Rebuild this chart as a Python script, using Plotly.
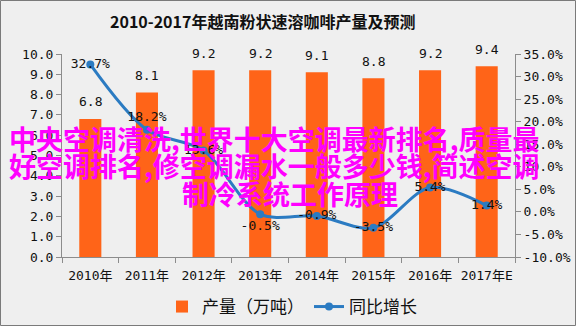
import plotly.graph_objects as go

# Vietnam powdered instant coffee output and year-on-year growth
years = ["2010年", "2011年", "2012年", "2013年", "2014年", "2015年", "2016年", "2017年E"]
output_wt = [6.8, 8.1, 9.2, 9.2, 9.1, 8.8, 9.2, 9.4]          # 万吨
growth_pct = [32.7, 18.2, 13.6, -0.5, -0.9, -3.5, 5.4, 1.4]   # %
growth_pos = ["middle center", "top center", "middle center", "bottom center",
              "middle center", "middle center", "middle center", "middle center"]

left_ticks = [0, 1, 2, 3, 4, 5, 6, 7, 8, 9, 10]
right_ticks = [-10, -5, 0, 5, 10, 15, 20, 25, 30, 35]

overlay_lines = ["中央空调清洗,世界十大空调最新排名,质量最",
                 "好空调排名,修空调漏水一般多少钱,简述空调",
                 "制冷系统工作原理"]

W, H = 576, 326
ML, MR, MT, MB = 62, 61, 54, 69
PW, PH = W - ML - MR, H - MT - MB

NUM_FONT = "DejaVu Sans Mono, Noto Sans CJK SC, sans-serif"
CJK_FONT = "Noto Sans CJK SC, sans-serif"
BG = "#efefef"
ORANGE = "#ff6418"
BLUE = "#2b7bc2"
AXIS = "#8c8c8c"

fig = go.Figure()

fig.add_trace(go.Bar(
    x=years, y=output_wt, name="产量（万吨）",
    marker=dict(color=ORANGE, line=dict(width=0)),
    width=0.39, yaxis="y",
))

fig.add_trace(go.Scatter(
    x=years, y=growth_pct, name="同比增长", yaxis="y2",
    mode="lines+markers+text",
    line=dict(color=BLUE, width=3, shape="spline", smoothing=0.9),
    marker=dict(color=BLUE, size=8),
    text=[f"{v:.1f}%" for v in growth_pct],
    textposition=growth_pos,
    textfont=dict(family=NUM_FONT, size=13, color="#111111"),
    cliponaxis=False,
))

annotations = []
# value labels above the bars
for x, v in zip(years, output_wt):
    annotations.append(dict(
        x=x, y=v, xref="x", yref="y", text=f"{v:.1f}", showarrow=False,
        yshift=17, font=dict(family=NUM_FONT, size=13, color="#111111"),
    ))

# title
annotations.append(dict(
    x=(262 - ML) / PW, y=(H - 21 - MB) / PH, xref="paper", yref="paper",
    text="<b>2010-2017年越南粉状速溶咖啡产量及预测</b>", showarrow=False,
    xanchor="center", yanchor="middle",
    font=dict(family=CJK_FONT, size=16, color="#111111"),
))

# magenta headline text over the chart
line_specs = [(7, 138, "left"), (7, 165, "left"), (290, 193, "center")]
for txt, (px, py, anchor) in zip(overlay_lines, line_specs):
    annotations.append(dict(
        x=(px - ML) / PW, y=(H - py - MB) / PH, xref="paper", yref="paper",
        text=f"<b>{txt}</b>", showarrow=False, xanchor=anchor, yanchor="middle",
        font=dict(family=CJK_FONT, size=27, color="#ff00ff"),
    ))

fig.update_layout(
    width=W, height=H,
    margin=dict(l=ML, r=MR, t=MT, b=MB, autoexpand=False),
    paper_bgcolor=BG, plot_bgcolor=BG,
    showlegend=True,
    legend=dict(
        orientation="h", x=(292 - ML) / PW, y=(H - 307 - MB) / PH,
        xanchor="center", yanchor="middle",
        font=dict(family=CJK_FONT, size=17, color="#111111"),
        bgcolor="rgba(0,0,0,0)", itemwidth=30,
    ),
    bargap=0.6,
    xaxis=dict(
        type="category", showline=True, linecolor=AXIS, linewidth=1,
        ticks="outside", tickson="boundaries", ticklen=5, tickcolor=AXIS,
        tickangle=0, ticklabelstandoff=6, automargin=False,
        tickfont=dict(family=NUM_FONT, size=13, color="#111111"),
        showgrid=False, zeroline=False,
    ),
    yaxis=dict(
        range=[0, 10], tickvals=left_ticks,
        ticktext=[f"{t:.1f}" for t in left_ticks],
        showline=True, linecolor=AXIS, linewidth=1, automargin=False,
        ticks="outside", ticklen=5, tickcolor=AXIS,
        tickfont=dict(family=NUM_FONT, size=13, color="#111111"),
        showgrid=False, zeroline=False,
    ),
    yaxis2=dict(
        range=[-10, 35], tickvals=right_ticks,
        ticktext=[f"{t:.1f}%" for t in right_ticks],
        overlaying="y", side="right", automargin=False,
        showline=True, linecolor=AXIS, linewidth=1,
        ticks="outside", ticklen=5, tickcolor=AXIS,
        tickfont=dict(family=NUM_FONT, size=13, color="#111111"),
        showgrid=False, zeroline=False,
    ),
    annotations=annotations,
    shapes=[dict(
        type="rect", xref="paper", yref="paper",
        x0=(-ML + 0.5) / PW, x1=(W - ML - 0.5) / PW,
        y0=(-MB + 0.5) / PH, y1=(H - MB - 0.5) / PH,
        line=dict(color="#7a7a7a", width=1), fillcolor="rgba(0,0,0,0)",
        layer="above",
    )],
)

fig.write_html("out.html")
